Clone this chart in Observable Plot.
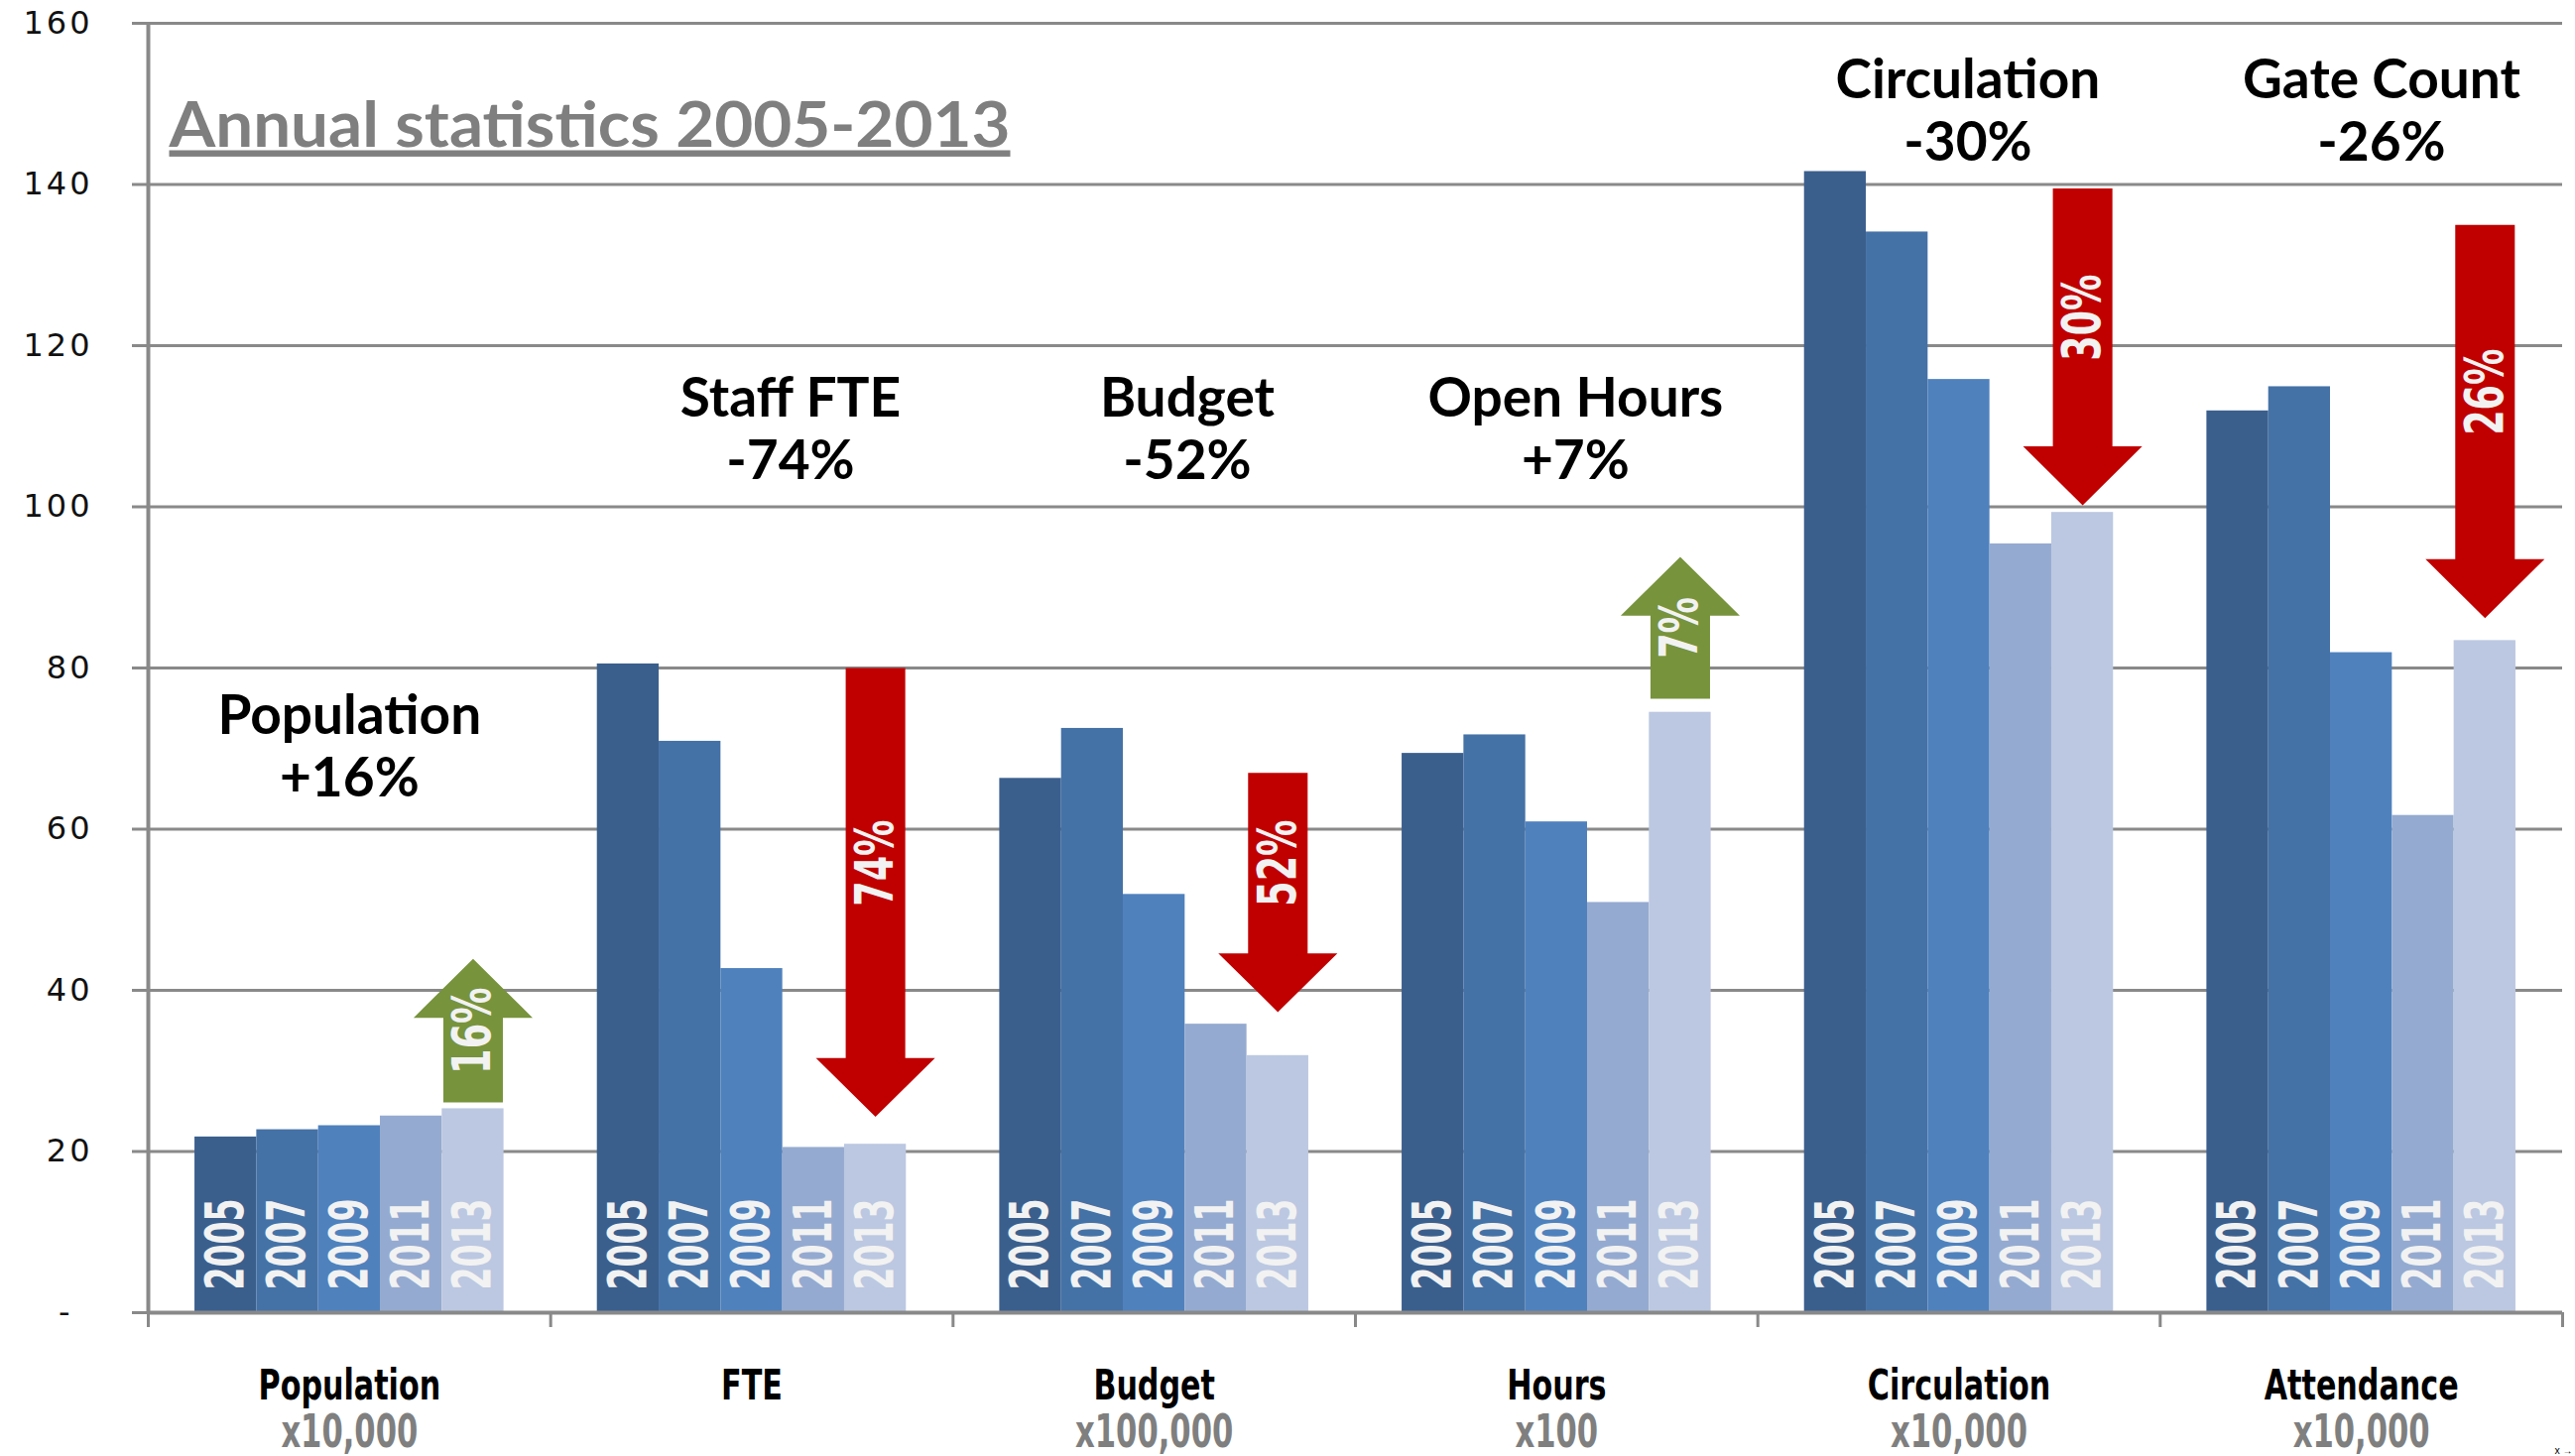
<!DOCTYPE html>
<html><head><meta charset="utf-8">
<script src="https://cdn.jsdelivr.net/npm/d3@7"></script>
<script src="https://cdn.jsdelivr.net/npm/@observablehq/plot@0.6"></script>
<style>
html,body{margin:0;padding:0;background:#fff;overflow:hidden;}
</style></head><body><div id="chart"></div>
<script>
// ---- data ----
const categories = ["Population", "FTE", "Budget", "Hours", "Circulation", "Attendance"];
const units = ["x10,000", "", "x100,000", "x100", "x10,000", "x10,000"];
const years = ["2005", "2007", "2009", "2011", "2013"];
const population = [21.8, 22.7, 23.2, 24.4, 25.3];
const fte = [80.5, 70.9, 42.7, 20.5, 20.9];
const budget = [66.3, 72.5, 51.9, 35.8, 31.9];
const hours = [69.4, 71.7, 60.9, 50.9, 74.5];
const circulation = [141.6, 134.1, 115.8, 95.4, 99.3];
const attendance = [111.9, 114.9, 81.9, 61.7, 83.4];
const yTicks = [20, 40, 60, 80, 100, 120, 140, 160];
const title = "Annual statistics 2005-2013";
const annTitles = ["Population", "Staff FTE", "Budget", "Open Hours", "Circulation", "Gate Count"];
const annChanges = ["+16%", "-74%", "-52%", "+7%", "-30%", "-26%"];
const arrowLabels = ["16%", "74%", "52%", "7%", "30%", "26%"];
const arrowFrom = [26.1, 80.0, 67.0, 76.2, 139.5, 135.0];
const arrowTo = [43.9, 24.3, 37.3, 93.8, 100.2, 86.2];

// ---- layout / style ----
const yearColors = ["#3B5F8D", "#4572A6", "#4F81BD", "#95AAD0", "#BCC8E1"];
const GROUP = 0.768, BW = GROUP / 5;
const HEAD = 7.3, SW = 0.074, HW = 0.148;
const annLayout = {y: [71.8, 111.2, 111.2, 111.2, 150.7, 150.7], dx: [0, 0.096, 0.082, 0.047, 0.022, 0.05]};
const COND = "'Liberation Sans Narrow', 'DejaVu Sans Condensed', 'Arial Narrow', sans-serif";
const GRID = "#898989";

const series = [population, fte, budget, hours, circulation, attendance];
const rows = [];
categories.forEach((c, i) => years.forEach((yr, j) => rows.push({cat: c, ci: i, year: yr, yi: j, value: series[i][j]})));
const bx1 = d => d.ci + 0.5 - GROUP / 2 + d.yi * BW;
const bxc = d => bx1(d) + BW / 2;

const arrowPts = [], arrowLab = [];
arrowFrom.forEach((from, k) => {
  const to = arrowTo[k], s = Math.sign(to - from);
  const cx = k + 0.5 - GROUP / 2 + 4.5 * BW;
  const hb = to - s * HEAD;
  [[cx - SW, from], [cx + SW, from], [cx + SW, hb], [cx + HW, hb], [cx, to], [cx - HW, hb], [cx - SW, hb]]
    .forEach(([x, y]) => arrowPts.push({k, x, y, up: s > 0}));
  arrowLab.push({x: cx, y: s > 0 ? (from + to) / 2 : (from + hb) / 2, text: arrowLabels[k]});
});
const ann = annTitles.map((t, i) => ({x: i + 0.5 + annLayout.dx[i], y: annLayout.y[i], t, c: annChanges[i]}));
const cats = categories.map((c, i) => ({x: i + 0.5, c, u: units[i]}));

const chart = Plot.plot({
  width: 2596, height: 1468,
  marginTop: 23, marginBottom: 145, marginLeft: 149, marginRight: 13,
  x: {domain: [0, 6], axis: null},
  y: {domain: [0, 160], axis: null},
  color: {domain: years, range: yearColors},
  marks: [
    Plot.gridY(yTicks, {stroke: GRID, strokeOpacity: 1, strokeWidth: 3}),
    Plot.axisY(yTicks, {tickSize: 16, tickPadding: 40, stroke: GRID, strokeWidth: 3, fontSize: 32, fontFamily: "'DejaVu Sans', sans-serif", fill: "#111", tickFormat: d => String(d)}),
    Plot.axisY([0], {tickSize: 16, tickPadding: 60, stroke: GRID, strokeWidth: 3, fontSize: 32, fontFamily: "'DejaVu Sans', sans-serif", fill: "#111", tickFormat: () => "-"}),
    Plot.axisX(d3.range(7), {tickSize: 15, tickFormat: () => "", stroke: GRID, strokeWidth: 3}),
    Plot.rectY(rows, {x1: bx1, x2: d => bx1(d) + BW, y: "value", fill: "year", inset: 0}),
    Plot.ruleX([0], {y1: 0, y2: 160, stroke: GRID, strokeWidth: 4}),
    Plot.ruleY([0], {stroke: GRID, strokeWidth: 4}),
    Plot.text(rows, {x: bxc, y: 0, text: "year", rotate: -90, textAnchor: "start", lineAnchor: "middle", dy: -23,
      fill: "#F2F2F2", fontSize: 54, fontWeight: "bold", fontFamily: COND, ariaDescription: "years"}),
    Plot.line(arrowPts.filter(d => d.up), {x: "x", y: "y", z: "k", fill: "#77933C", stroke: "none"}),
    Plot.line(arrowPts.filter(d => !d.up), {x: "x", y: "y", z: "k", fill: "#C00000", stroke: "none"}),
    Plot.text(arrowLab, {x: "x", y: "y", text: "text", rotate: -90, textAnchor: "middle", lineAnchor: "middle",
      fill: "#F2F2F2", fontSize: 54, fontWeight: "bold", fontFamily: COND, ariaDescription: "arrowlabels"}),
    Plot.text(ann, {x: "x", y: "y", text: "t", lineAnchor: "bottom", fill: "#000", fontSize: 55, fontWeight: "bold", fontFamily: "Lato, sans-serif"}),
    Plot.text(ann, {x: "x", y: "y", text: "c", lineAnchor: "bottom", dy: 63, fill: "#000", fontSize: 55, fontWeight: "bold", fontFamily: "Lato, sans-serif"}),
    Plot.text(cats, {x: "x", text: "c", frameAnchor: "bottom", lineAnchor: "bottom", dy: 87, fill: "#000", fontSize: 43, fontWeight: "bold", fontFamily: COND, ariaDescription: "catnames"}),
    Plot.text(cats, {x: "x", text: "u", frameAnchor: "bottom", lineAnchor: "bottom", dy: 135, fill: "#7F7F7F", fontSize: 46, fontWeight: "bold", fontFamily: COND, ariaDescription: "units"}),
    Plot.text([title], {frameAnchor: "top-left", text: d => d, textAnchor: "start", lineAnchor: "bottom", dx: 21, dy: 124,
      fill: "#7F7F7F", fontSize: 64, fontWeight: "bold", fontFamily: "Lato, sans-serif", ariaDescription: "title"})
  ]
});
document.getElementById("chart").appendChild(chart);

function squeeze(desc, factor, fixed) {
  chart.querySelectorAll(`g[aria-description="${desc}"] text`).forEach(t => {
    const L = t.getComputedTextLength();
    if (!L) return;
    t.setAttribute("textLength", fixed ? fixed : L * factor);
    t.setAttribute("lengthAdjust", "spacingAndGlyphs");
  });
}
squeeze("years", 0.68);
squeeze("arrowlabels", 0.75);
squeeze("catnames", 0.78);
squeeze("units", 0.74);
squeeze("title", 1, 848);
chart.querySelectorAll('g[aria-description="title"] text').forEach(t => {
  t.style.textDecoration = "underline";
  t.style.textDecorationThickness = "5px";
  t.style.textUnderlineOffset = "9px";
});
chart.querySelectorAll('g[aria-label="y-axis tick label"] text').forEach(t => t.style.letterSpacing = "3px");
</script>
</body></html>
